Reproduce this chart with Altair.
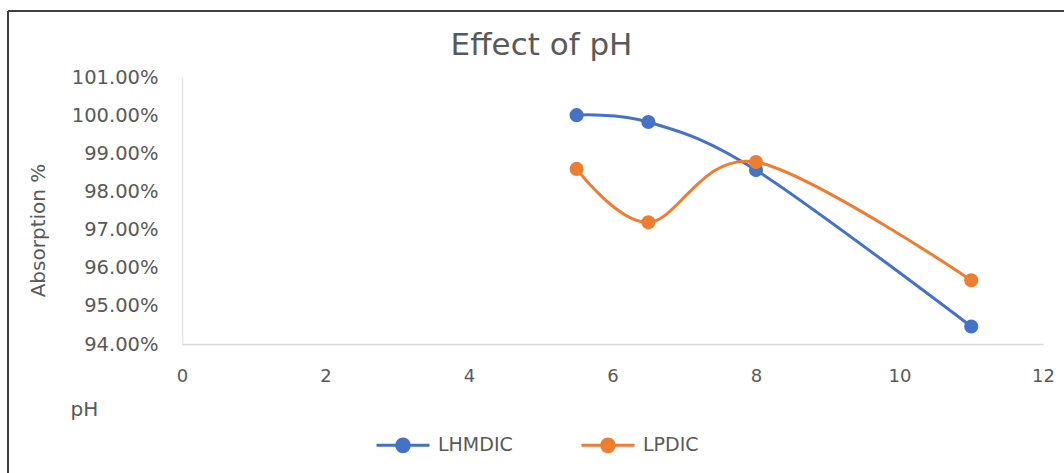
import altair as alt
import pandas as pd

ph = [5.5, 6.5, 8, 11]
lhmdic = [1.0000, 0.9982, 0.9856, 0.9446]
lpdic = [0.9859, 0.9719, 0.9877, 0.9567]
series_names = ["LHMDIC", "LPDIC"]
colors = ["#4472C4", "#ED7D31"]

rows = []
for x, v in zip(ph, lhmdic):
    rows.append({"pH": x, "value": v, "series": "LHMDIC"})
for x, v in zip(ph, lpdic):
    rows.append({"pH": x, "value": v, "series": "LPDIC"})
df = pd.DataFrame(rows)

FONT = "DejaVu Sans"
GRAY = "#595959"

x_axis = alt.Axis(values=[0, 2, 4, 6, 8, 10, 12], format="d", title="pH", grid=False,
                  ticks=False, domainColor="#d9d9d9", domainWidth=1.5,
                  labelFont=FONT, labelFontSize=18, labelColor=GRAY,
                  labelPadding=23, labelFlush=False, labelOverlap=False,
                  titleFont=FONT, titleFontSize=20, titleFontWeight="normal",
                  titleColor=GRAY, titleX=-112, titleY=55, titleAlign="left",
                  titleBaseline="top")
y_axis = alt.Axis(tickCount=7, format=".2%", title="Absorption %", grid=False, ticks=False,
                  domainColor="#e6e6e6", domainWidth=1.5,
                  labelFont=FONT, labelFontSize=19.5, labelColor=GRAY,
                  labelPadding=24, labelOverlap=False, labelFlush=False,
                  titleFont=FONT, titleFontSize=20, titleFontWeight="normal",
                  titleColor=GRAY, titleX=-144, titleY=153, titleAlign="center",
                  titleBaseline="middle")

x_scale = alt.Scale(domain=[0, 12], nice=False)
y_scale = alt.Scale(domain=[0.94, 1.01], nice=False, zero=False)
color_scale = alt.Scale(domain=series_names, range=colors)

legend = alt.Legend(
    title=None, orient="none", direction="horizontal",
    legendX=193, legendY=340,
    symbolType="M-1,0H1M-0.24,0A0.24,0.24,0,1,1,0.24,0A0.24,0.24,0,1,1,-0.24,0Z",
    symbolSize=2809, symbolStrokeWidth=3,
    labelFont=FONT, labelFontSize=19, labelColor=GRAY,
    labelOffset=7, columnPadding=62)

lines = alt.Chart(df).mark_line(interpolate="cardinal", strokeWidth=3).encode(
    x=alt.X("pH:Q", scale=x_scale, axis=x_axis),
    y=alt.Y("value:Q", scale=y_scale, axis=y_axis),
    stroke=alt.Stroke("series:N", scale=color_scale, legend=legend),
)

points = alt.Chart(df).mark_point(filled=True, size=200, opacity=1, strokeWidth=0).encode(
    x=alt.X("pH:Q", scale=x_scale, axis=x_axis),
    y=alt.Y("value:Q", scale=y_scale, axis=y_axis),
    fill=alt.Fill("series:N", scale=color_scale, legend=legend),
)

frame_top = alt.Chart(df).mark_rule(color="#404040", strokeWidth=1.5).encode(
    x=alt.value(-174), x2=alt.value(900), y=alt.value(-66))
frame_left = alt.Chart(df).mark_rule(color="#404040", strokeWidth=1.5).encode(
    x=alt.value(-174), y=alt.value(-66), y2=alt.value(420))

chart = alt.layer(lines, points, frame_top, frame_left).properties(
    width=861, height=267,
    autosize=alt.AutoSizeParams(type="none"),
    padding={"left": 182, "top": 77, "right": 21, "bottom": 129},
    title=alt.TitleParams("Effect of pH", font=FONT, fontSize=31, fontWeight="normal",
                          color=GRAY, anchor="middle", dx=-71, offset=14,
                          baseline="alphabetic", dy=90),
).configure(background="white").configure_view(strokeWidth=0, stroke=None)

chart.save("out.html", embed_options={"renderer": "svg", "actions": False})
